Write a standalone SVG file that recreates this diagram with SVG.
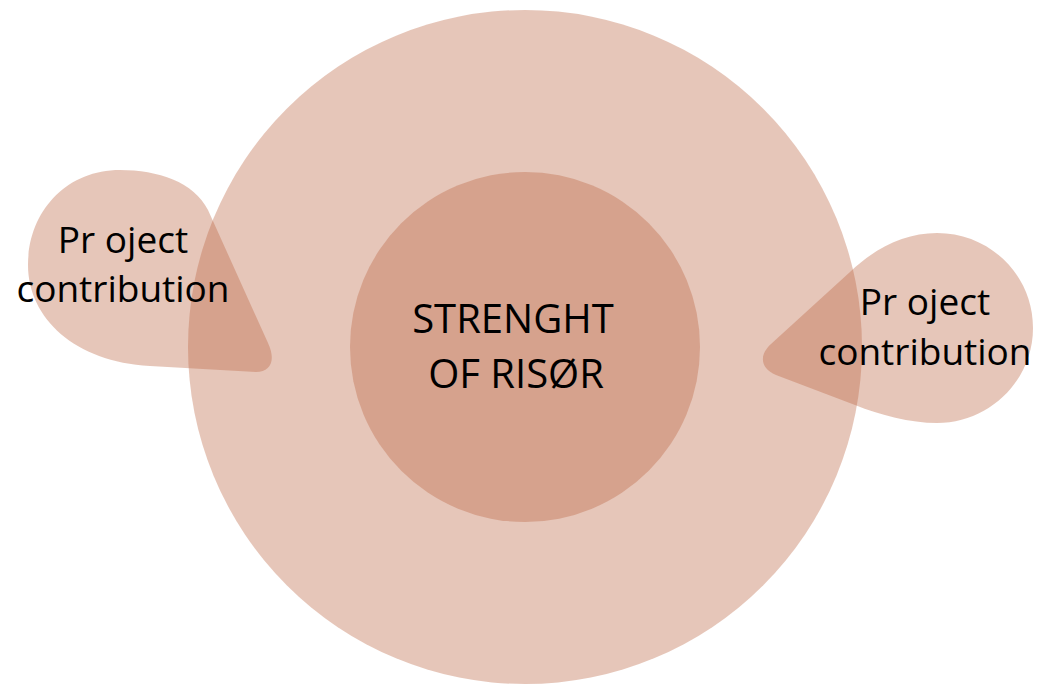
<svg xmlns="http://www.w3.org/2000/svg" width="1043" height="686" viewBox="0 0 1043 686">
<style>
.shape{fill:#bb6542;fill-opacity:0.37;stroke:none}
.lbl{font-family:"Open Sans","Noto Sans",sans-serif;fill:#000;text-anchor:middle}
.side{font-size:37px}
.core{font-size:40px}
</style>
<rect width="1043" height="686" fill="#ffffff"/>
<g id="outer-circle">
<circle class="shape" cx="525" cy="347" r="337"/>
</g>
<g id="inner-circle">
<circle class="shape" cx="525" cy="347" r="175"/>
<text class="lbl core" x="513" y="333">STRENGHT</text>
<text class="lbl core" x="516" y="388">OF RISØR</text>
</g>
<g id="left-contribution">
<path class="shape" d="M 268,343 L 208,210 C 194,182 158,170 120,170 C 65,170 28,213 28,265 C 28,318 75,362 150,366 L 256,372 C 271,372 276,360 268,343 Z"/>
<text class="lbl side" x="123" y="253">Pr oject</text>
<text class="lbl side" x="123" y="302">contribution</text>
</g>
<g id="right-contribution">
<path class="shape" d="M 771,344 L 850,272 C 875,248 905,233 937,233 C 990,233 1033,275 1033,328 C 1033,380 990,423 937,423 C 910,423 880,415 855,405 L 776,375 C 760,368 759,355 771,344 Z"/>
<text class="lbl side" x="925" y="315">Pr oject</text>
<text class="lbl side" x="925" y="365">contribution</text>
</g>
<g id="connectors"></g>
</svg>
